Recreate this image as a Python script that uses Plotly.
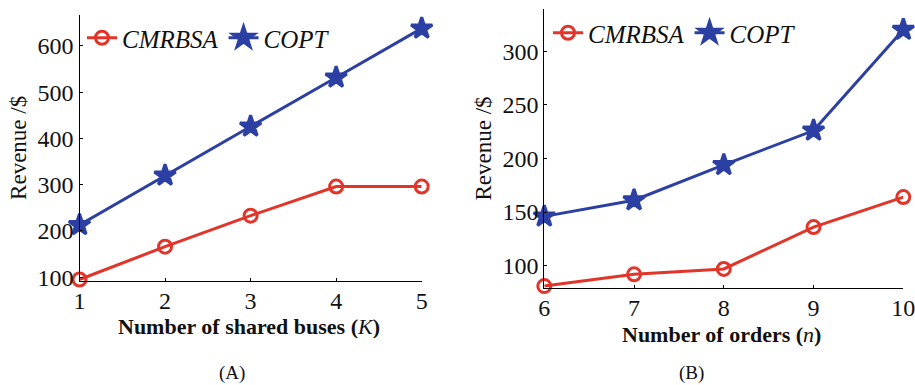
import plotly.graph_objects as go

# Panel A data
buses = [1, 2, 3, 4, 5]
cmrbsa_a = [95, 166, 233, 296, 296]
copt_a = [213, 320, 426, 532, 638]

# Panel B data
orders = [6, 7, 8, 9, 10]
cmrbsa_b = [81, 92, 97, 136, 164]
copt_b = [146, 161, 194, 226, 320]

yticks_a = [100, 200, 300, 400, 500, 600]
yticks_b = [100, 150, 200, 250, 300]

RED = "#E3342A"
BLUE = "#2C3FA3"
SERIF = "Liberation Serif"

W, H = 915, 385

def px(x):
    return x / W

def py(y):
    return 1 - y / H

fig = go.Figure()

def add(xs, ys, name, color, symbol, size, xa, ya, leg):
    fig.add_trace(go.Scatter(
        x=xs, y=ys, name=name, mode="lines+markers",
        line=dict(color=color, width=3),
        marker=dict(symbol=symbol, size=size, color=color,
                    line=dict(color=color, width=3)),
        xaxis=xa, yaxis=ya, legend=leg, showlegend=True,
        cliponaxis=False,
    ))

add(buses, cmrbsa_a, "<i>CMRBSA</i>", RED, "circle-open", 13, "x", "y", "legend")
add(buses, copt_a, "<i>COPT</i>", BLUE, "star", 16, "x", "y", "legend")
add(orders, cmrbsa_b, "<i>CMRBSA</i>", RED, "circle-open", 13, "x2", "y2", "legend2")
add(orders, copt_b, "<i>COPT</i>", BLUE, "star", 16, "x2", "y2", "legend2")

axis_common = dict(
    showline=True, linecolor="black", linewidth=1.2, mirror=False,
    ticks="inside", ticklen=3, tickcolor="black", showgrid=False,
    zeroline=False, automargin=False, ticklabeloverflow="allow",
    tickfont=dict(family=SERIF, size=24, color="#111"),
)

fig.update_layout(
    width=W, height=H, margin=dict(l=0, r=0, t=0, b=0, autoexpand=False),
    paper_bgcolor="white", plot_bgcolor="white",
    font=dict(family=SERIF, color="#111"),
    xaxis=dict(domain=[px(79.5), px(421.7)], range=[1, 5], tickvals=buses,
               anchor="y", ticklabelstandoff=-2, **axis_common),
    yaxis=dict(domain=[py(280.7), py(15)], range=[92.4, 667], tickvals=yticks_a,
               anchor="x",
               title=dict(text="Revenue /$", font=dict(family=SERIF, size=23), standoff=4),
               **axis_common),
    xaxis2=dict(domain=[px(544.3), px(903.3)], range=[6, 10], tickvals=orders,
                anchor="y2", ticklabelstandoff=-2, **axis_common),
    yaxis2=dict(domain=[py(287.7), py(9.3)], range=[79.5, 339], tickvals=yticks_b,
                anchor="x2",
                title=dict(text="Revenue /$", font=dict(family=SERIF, size=23), standoff=4),
                **axis_common),
    legend=dict(x=px(82), y=py(15), xanchor="left", yanchor="top",
                orientation="h", bgcolor="rgba(0,0,0,0)",
                font=dict(family=SERIF, size=25), tracegroupgap=0,
                itemwidth=30),
    legend2=dict(x=px(548), y=py(10), xanchor="left", yanchor="top",
                 orientation="h", bgcolor="rgba(0,0,0,0)",
                 font=dict(family=SERIF, size=25), tracegroupgap=0,
                 itemwidth=30),
    annotations=[
        dict(text="<b>Number of shared buses (</b><i>K</i><b>)</b>",
             x=px(249), y=py(326), xref="paper", yref="paper",
             xanchor="center", yanchor="middle",
             showarrow=False, font=dict(family=SERIF, size=22)),
        dict(text="<b>Number of orders (</b><i>n</i><b>)</b>",
             x=px(721.7), y=py(334), xref="paper", yref="paper",
             xanchor="center", yanchor="middle",
             showarrow=False, font=dict(family=SERIF, size=22)),
        dict(text="(A)", x=px(232), y=py(372.7), xref="paper", yref="paper",
             xanchor="center", yanchor="middle",
             showarrow=False, font=dict(family=SERIF, size=19)),
        dict(text="(B)", x=px(691.7), y=py(372.7), xref="paper", yref="paper",
             xanchor="center", yanchor="middle",
             showarrow=False, font=dict(family=SERIF, size=19)),
    ],
)

fig.write_html("out.html", config={"displayModeBar": False},
               post_script="document.body.style.margin='0';")
